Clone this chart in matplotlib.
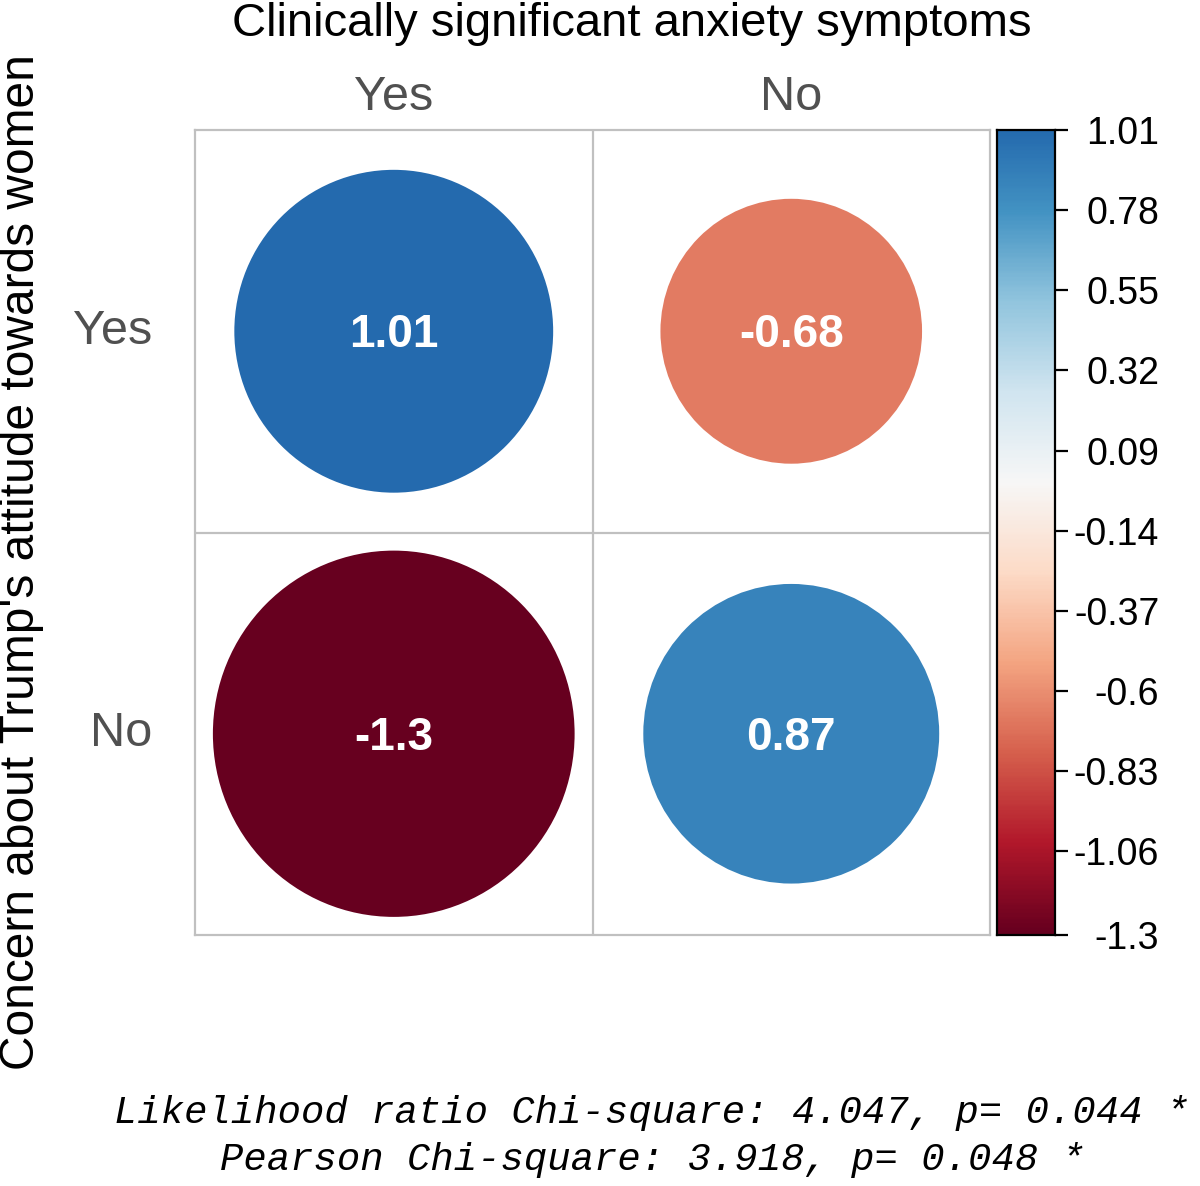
import numpy as np
import matplotlib
matplotlib.use("Agg")
import matplotlib.pyplot as plt
from matplotlib.patches import Circle
from matplotlib.colors import Normalize

# Pearson residuals (rows: concern about Trump, cols: anxiety symptoms)
row_labels = ["Yes", "No"]
col_labels = ["Yes", "No"]
residuals = np.array([[1.01, -0.68],
                      [-1.3, 0.87]])
cbar_ticks = [1.01, 0.78, 0.55, 0.32, 0.09, -0.14, -0.37, -0.6, -0.83, -1.06, -1.3]
title = "Clinically significant anxiety symptoms"
ylabel = "Concern about Trump's attitude towards women"
footnote = ["Likelihood ratio Chi-square: 4.047, p= 0.044 *",
            "Pearson Chi-square: 3.918, p= 0.048 *"]

plt.rcParams['font.family'] = ['Liberation Sans', 'DejaVu Sans']

W, H = 1200, 1186
fig = plt.figure(figsize=(W / 100, H / 100), dpi=100)

vmax = np.abs(residuals).max()
norm = Normalize(-vmax, vmax)
cmap = plt.get_cmap("RdBu")

# main grid
ax = fig.add_axes([195 / W, (H - 935) / H, 795 / W, 805 / H])
ax.set_xlim(0, 2)
ax.set_ylim(2, 0)
ax.set_xticks([])
ax.set_yticks([])
for s in ax.spines.values():
    s.set_color("#c0c0c0")
    s.set_linewidth(1.6)
ax.axvline(1, color="#c0c0c0", lw=1.6)
ax.axhline(1, color="#c0c0c0", lw=1.6)

for i in range(2):
    for j in range(2):
        v = residuals[i, j]
        r = 0.455 * np.sqrt(abs(v) / vmax)
        ax.add_patch(Circle((j + 0.5, i + 0.5), r, color=cmap(norm(v)), lw=0))
        ax.text(j + 0.5, i + 0.51, f"{v:g}", ha="center", va="center",
                color="white", fontsize=33, fontweight="bold")

for j, lab in enumerate(col_labels):
    fig.text((195 + 397.5 * (j + 0.5)) / W, 1 - 98 / H, lab, ha="center",
             va="center", fontsize=35, color="#505050")
for i, lab in enumerate(row_labels):
    ax.text(-0.108, i + 0.5, lab, ha="right", va="center", fontsize=35,
            color="#505050")

fig.text(632 / W, 1 - 24 / H, title, ha="center", va="center", fontsize=34)
fig.text(22 / W, 1 - 562 / H, ylabel, ha="center", va="center",
         rotation=90, fontsize=34.5)

# colour bar
cax = fig.add_axes([997 / W, (H - 935) / H, 58 / W, 805 / H])
lo, hi = cbar_ticks[-1], cbar_ticks[0]
grad = np.linspace(lo, hi, 400).reshape(-1, 1)
cax.imshow(grad, cmap=cmap, norm=norm, aspect="auto", origin="lower",
           extent=[0, 1, lo, hi])
cax.set_xlim(0, 1)
cax.set_ylim(lo, hi)
cax.set_xticks([])
cax.yaxis.tick_right()
cax.set_yticks(cbar_ticks)
cax.set_yticklabels([f"{t:g}" for t in cbar_ticks])
cax.tick_params(axis="y", length=9, width=1.6, pad=66, labelsize=27)
for lab in cax.get_yticklabels():
    lab.set_ha("right")
for s in cax.spines.values():
    s.set_linewidth(1.6)

fig.text(652 / W, 1 - 1113 / H, footnote[0], ha="center", va="center",
         family="Liberation Mono", style="italic", fontsize=28)
fig.text(652 / W, 1 - 1160 / H, footnote[1], ha="center", va="center",
         family="Liberation Mono", style="italic", fontsize=28)

fig.savefig("out.png", dpi=100)
